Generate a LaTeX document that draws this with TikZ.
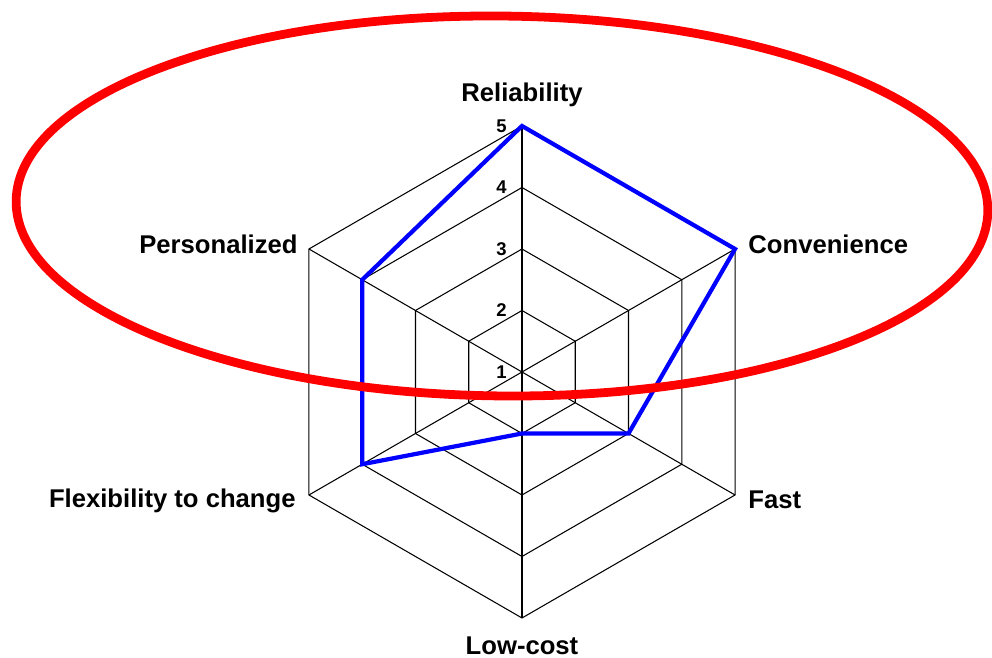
\documentclass[tikz,border=0pt]{standalone}
\usepackage{fontspec}
\setmainfont{Liberation Sans}
\usetikzlibrary{positioning}

\begin{document}
\begin{tikzpicture}[
        x=0.02cm, y=0.02cm,
        grid/.style={draw=black, line width=0.6pt},
        score/.style={draw=blue, line width=2.4pt},
        focus/.style={draw=red, line width=5pt},
        axislabel/.style={font=\bfseries\fontsize{14.6}{16}\selectfont, inner sep=0pt},
        ticklabel/.style={font=\bfseries\fontsize{10.5}{12}\selectfont, inner sep=0pt, anchor=east}
    ]
        \useasboundingbox (-522,-286) rectangle (470,372);

        % Axes
        \coordinate (o) at (0,0);
        \foreach \ang/\name in {90/rel, 30/con, -30/fast, -90/cost, -150/flex, 150/pers} {
            \coordinate (\name) at (\ang:246);
            \draw[grid] (o) -- (\name);
        }

        % Level rings
        \foreach \r in {1,2,3,4} {
            \draw[grid] (90:{\r*61.5}) -- (30:{\r*61.5}) -- (-30:{\r*61.5})
                -- (-90:{\r*61.5}) -- (-150:{\r*61.5}) -- (150:{\r*61.5}) -- cycle;
        }

        % Scores
        \draw[score] (90:246) -- (30:246) -- (-30:123) -- (-90:61.5)
            -- (-150:184.5) -- (150:184.5) -- cycle;

        % Highlight
        \draw[focus, rotate around={-0.6:(-20,166)}] (-20,166) ellipse [x radius=9.72cm, y radius=3.8cm];

        % Scale
        \foreach \v in {1,...,5} {
            \node[ticklabel] (tick\v) at (-15,{(\v-1)*61.5}) {\v};
        }

        % Axis names
        \node[axislabel, above=0.38cm of rel] (lrel) {Reliability};
        \node[axislabel, right=0.26cm of con, yshift=0.1cm] (lcon) {Convenience};
        \node[axislabel, right=0.26cm of fast, yshift=-0.1cm] (lfast) {Fast};
        \node[axislabel, below=0.38cm of cost] (lcost) {Low-cost};
        \node[axislabel, left=0.26cm of flex, yshift=-0.12cm] (lflex) {Flexibility to change};
        \node[axislabel, left=0.22cm of pers, yshift=0.1cm] (lpers) {Personalized};
    \end{tikzpicture}
\end{document}
